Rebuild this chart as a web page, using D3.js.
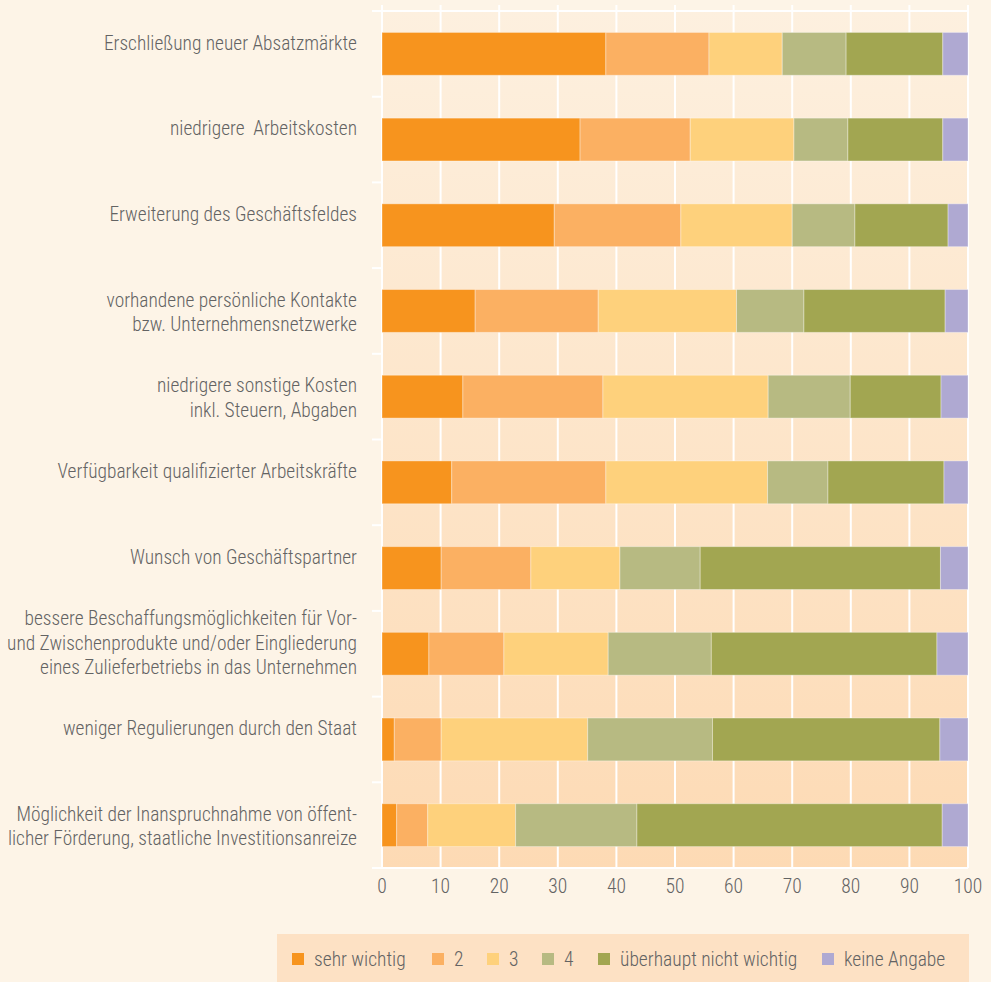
<!DOCTYPE html>
<html>
<head>
<meta charset="utf-8">
<script src="https://cdn.jsdelivr.net/npm/d3@7"></script>
<style>
  html, body { margin: 0; padding: 0; background: #fdf4e7; }
  svg { display: block; }
  text { font-family: "Liberation Sans Narrow", "Roboto Condensed", Roboto, sans-serif; font-weight: 300; fill: #636363; }
</style>
</head>
<body>
<div id="chart"></div>
<script>
// Kategorien (Zeilen, von oben nach unten)
const categories = [
    ["Erschließung neuer Absatzmärkte"],
    ["niedrigere  Arbeitskosten"],
    ["Erweiterung des Geschäftsfeldes"],
    ["vorhandene persönliche Kontakte", "bzw. Unternehmensnetzwerke"],
    ["niedrigere sonstige Kosten", "inkl. Steuern, Abgaben"],
    ["Verfügbarkeit qualifizierter Arbeitskräfte"],
    ["Wunsch von Geschäftspartner"],
    ["bessere Beschaffungsmöglichkeiten für Vor-", "und Zwischenprodukte und/oder Eingliederung", "eines Zulieferbetriebs in das Unternehmen"],
    ["weniger Regulierungen durch den Staat"],
    ["Möglichkeit der Inanspruchnahme von öffent-", "licher Förderung, staatliche Investitionsanreize"]
];

// Serien (Anteile in %)
const sehrWichtig = [38.2, 33.8, 29.4, 15.9, 13.8, 11.9, 10.1, 8.0, 2.1, 2.5];
const stufe2      = [17.6, 18.8, 21.6, 21.0, 23.9, 26.3, 15.3, 12.8, 8.0, 5.3];
const stufe3      = [12.5, 17.7, 19.0, 23.6, 28.2, 27.6, 15.2, 17.8, 25.0, 15.0];
const stufe4      = [10.9,  9.2, 10.7, 11.5, 14.0, 10.3, 13.7, 17.6, 21.3, 20.7];
const ueberhaupt  = [16.5, 16.2, 15.9, 24.1, 15.5, 19.8, 41.0, 38.5, 38.8, 52.1];
const keineAngabe = [ 4.3,  4.3,  3.4,  3.9,  4.6,  4.1,  4.7,  5.3,  4.8,  4.4];

const seriesNames = ["sehr wichtig", "2", "3", "4", "überhaupt nicht wichtig", "keine Angabe"];
const seriesColors = ["#f7941e", "#fbb062", "#fed17c", "#b7ba82", "#a2a651", "#afa9d2"];
const xTicks = [0, 10, 20, 30, 40, 50, 60, 70, 80, 90, 100];

const width = 991;
const height = 982;

const svg = d3.select("#chart")
    .append("svg")
    .attr("width", width)
    .attr("height", height);

// Hintergrund-Verlauf der Zeichenfläche
const defs = svg.append("defs");
const grad = defs.append("linearGradient")
    .attr("id", "plotBg")
    .attr("x1", 0).attr("y1", 0).attr("x2", 0).attr("y2", 1);
grad.append("stop").attr("offset", "0%").attr("stop-color", "#fdf0df");
grad.append("stop").attr("offset", "100%").attr("stop-color", "#fddab4");

// Skalen
const x = d3.scaleLinear().domain([0, 100]).range([382, 968]);
const y = d3.scaleBand()
    .domain(d3.range(categories.length))
    .range([11, 868])
    .paddingInner(0.5)
    .paddingOuter(0.25);

// Daten für Stapel
const rows = categories.map((c, i) => ({
    idx: i,
    "sehr wichtig": sehrWichtig[i],
    "2": stufe2[i],
    "3": stufe3[i],
    "4": stufe4[i],
    "überhaupt nicht wichtig": ueberhaupt[i],
    "keine Angabe": keineAngabe[i]
}));
const stacked = d3.stack().keys(seriesNames)(rows);

// Zeichenfläche
svg.append("rect")
    .attr("x", x(0))
    .attr("y", y.range()[0])
    .attr("width", x(100) - x(0))
    .attr("height", y.range()[1] - y.range()[0])
    .attr("fill", "url(#plotBg)");

// Gitterlinien
svg.append("g")
    .selectAll("line")
    .data(xTicks)
    .enter()
    .append("line")
    .attr("x1", d => x(d))
    .attr("x2", d => x(d))
    .attr("y1", 5)
    .attr("y2", y.range()[1])
    .attr("stroke", "#fff")
    .attr("stroke-width", 2);

// obere und untere Linie
[y.range()[0], y.range()[1]].forEach(v => {
    svg.append("line")
        .attr("x1", 372)
        .attr("x2", x(100))
        .attr("y1", v)
        .attr("y2", v)
        .attr("stroke", "#fff")
        .attr("stroke-width", 2);
});

// kleine Striche links zwischen den Kategorien
svg.append("g")
    .selectAll("line")
    .data(d3.range(1, categories.length))
    .enter()
    .append("line")
    .attr("x1", 372)
    .attr("x2", x(0))
    .attr("y1", d => y(d) - y.step() * y.paddingInner() / 2)
    .attr("y2", d => y(d) - y.step() * y.paddingInner() / 2)
    .attr("stroke", "#fff")
    .attr("stroke-width", 2);

// Balken
svg.append("g")
    .selectAll("g")
    .data(stacked)
    .enter()
    .append("g")
    .attr("fill", (d, i) => seriesColors[i])
    .selectAll("rect")
    .data(d => d)
    .enter()
    .append("rect")
    .attr("x", d => x(d[0]))
    .attr("y", d => y(d.data.idx))
    .attr("width", d => x(d[1]) - x(d[0]))
    .attr("height", y.bandwidth())
    .attr("stroke", "rgba(255,255,255,0.35)")
    .attr("stroke-width", 1);

// Kategorienbeschriftungen (erste Zeile etwas über der Balkenmitte)
const lineHeight = 24.5;
const labels = svg.append("g")
    .selectAll("text")
    .data(categories)
    .enter()
    .append("text")
    .attr("text-anchor", "end")
    .style("font-size", "19.4px")
    .attr("transform", (d, i) => {
        const cy = y(i) + y.bandwidth() / 2 - 11 - Math.max(0, d.length - 2) * lineHeight;
        return `translate(357, ${cy})`;
    });

labels.each(function (d) {
    const t = d3.select(this);
    d.forEach((line, j) => {
        t.append("tspan")
            .attr("x", 0)
            .attr("y", j * lineHeight)
            .attr("dy", "0.35em")
            .attr("xml:space", "preserve")
            .text(line);
    });
});

// x-Achse
svg.append("g")
    .selectAll("text")
    .data(xTicks)
    .enter()
    .append("text")
    .attr("x", d => x(d))
    .attr("y", 886)
    .attr("dy", "0.35em")
    .attr("text-anchor", "middle")
    .style("font-size", "19.5px")
    .text(d => d);

// Legende
svg.append("rect")
    .attr("x", 277)
    .attr("y", 934)
    .attr("width", 969 - 277)
    .attr("height", height - 934)
    .attr("fill", "#fde1c4");

const legendX = [292, 432, 487, 542, 598, 822];
const legend = svg.append("g")
    .selectAll("g")
    .data(seriesNames)
    .enter()
    .append("g")
    .attr("transform", (d, i) => `translate(${legendX[i]}, 959)`);

legend.append("rect")
    .attr("x", 0)
    .attr("y", -6)
    .attr("width", 12)
    .attr("height", 12)
    .attr("fill", (d, i) => seriesColors[i]);

legend.append("text")
    .attr("x", 22)
    .attr("y", 0)
    .attr("dy", "0.35em")
    .style("font-size", "19.5px")
    .text(d => d);
</script>
</body>
</html>
